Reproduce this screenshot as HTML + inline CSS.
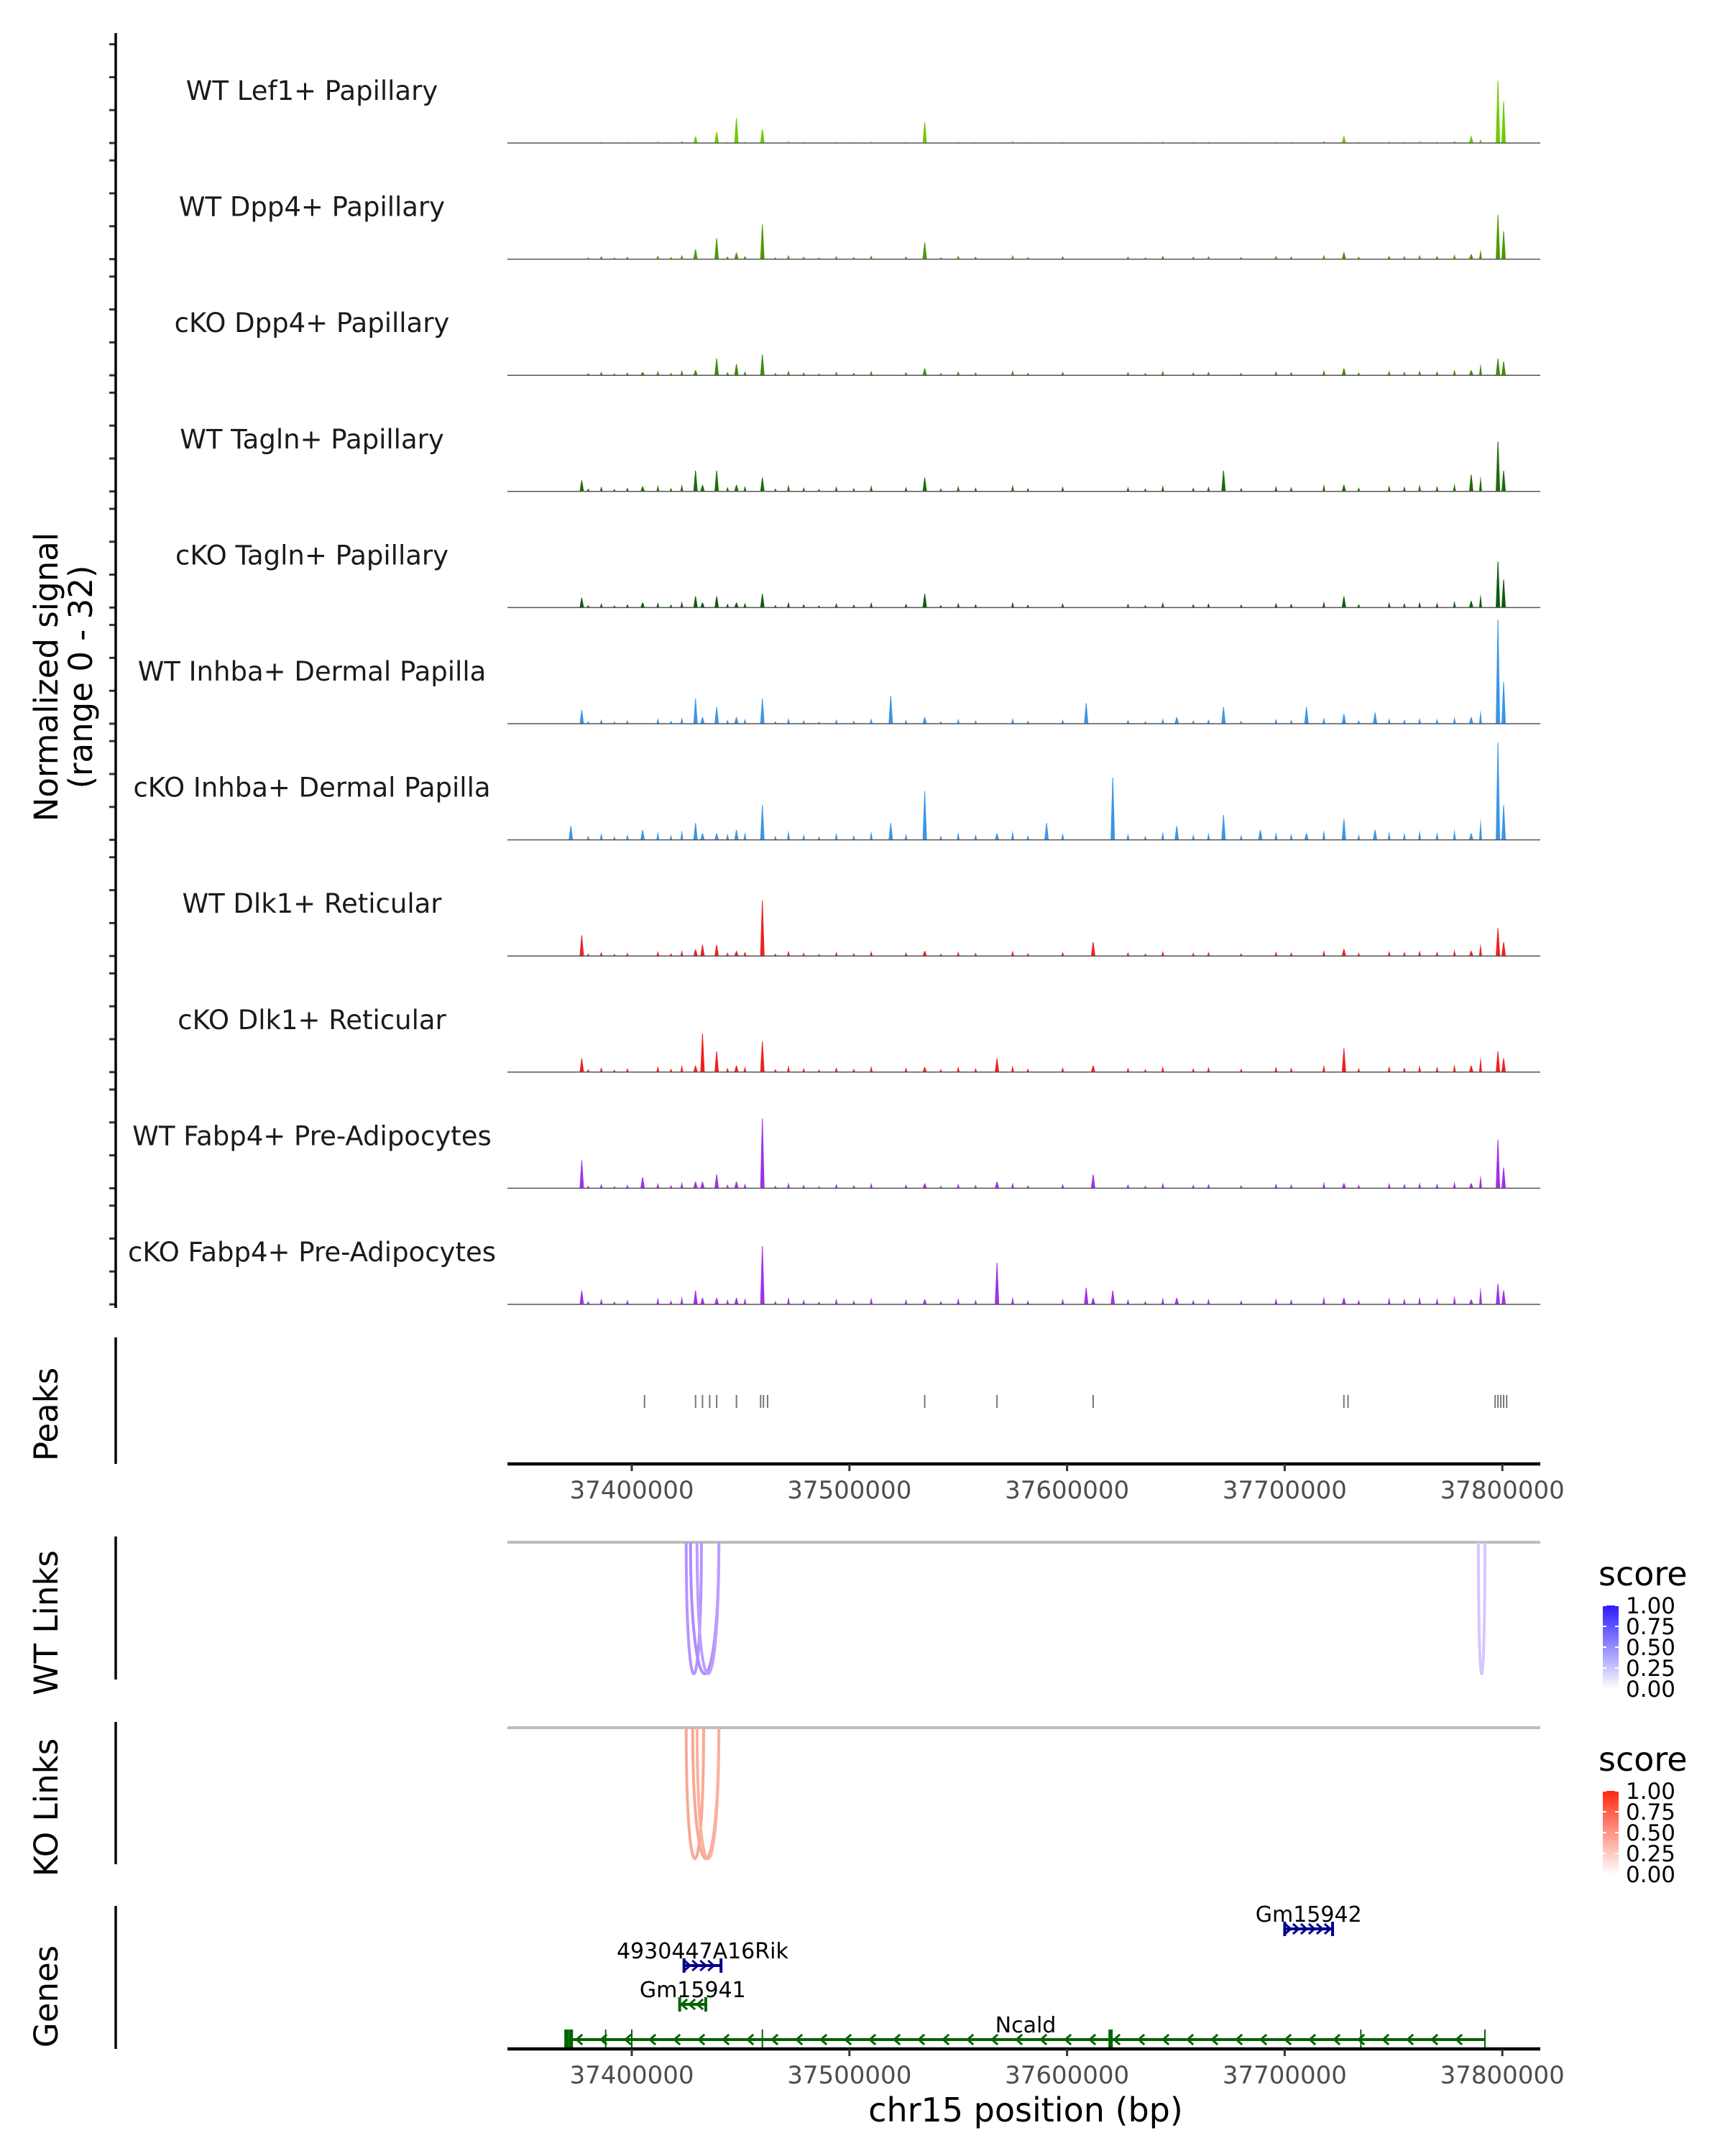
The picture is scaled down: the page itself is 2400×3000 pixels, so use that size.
<!DOCTYPE html>
<html><head><meta charset="utf-8"><title>chr15 coverage</title>
<style>
html,body{margin:0;padding:0;background:#fff;}
svg{display:block;font-family:"DejaVu Sans","Liberation Sans",sans-serif;}
</style></head>
<body>
<svg id="chart" xmlns="http://www.w3.org/2000/svg" width="2400" height="3000" viewBox="0 0 2400 3000">
<defs>
<linearGradient id="gWT" x1="0" y1="1" x2="0" y2="0"><stop offset="0" stop-color="#ffffff"/><stop offset="1" stop-color="#2a1aff"/></linearGradient>
<linearGradient id="gKO" x1="0" y1="1" x2="0" y2="0"><stop offset="0" stop-color="#ffffff"/><stop offset="1" stop-color="#ff2a10"/></linearGradient>
</defs>
<g id="tracks"></g>
<g id="peaks"></g>
<g id="links"></g>
<g id="genes"></g>
<g id="axes"></g>
</svg>
<script>
// ---- data ----
const trackNames = ["WT Lef1+ Papillary","WT Dpp4+ Papillary","cKO Dpp4+ Papillary","WT Tagln+ Papillary","cKO Tagln+ Papillary","WT Inhba+ Dermal Papilla","cKO Inhba+ Dermal Papilla","WT Dlk1+ Reticular","cKO Dlk1+ Reticular","WT Fabp4+ Pre-Adipocytes","cKO Fabp4+ Pre-Adipocytes"];
const trackColors = ["#6fcc00","#4c9a00","#3f8c00","#1f6b00","#0f5a0f","#3a96e8","#3a96e8","#f02020","#f02020","#a030e8","#a030e8"];
const peakPos = [37372000,37377000,37405000,37429300,37432500,37439000,37448100,37460000,37519000,37534600,37567800,37590600,37608800,37612000,37621000,37650400,37671900,37688800,37710000,37727200,37741500,37785700,37798000,37800600];
const peakVals = [
 [0,0,0,2,0,3.4,7.6,4.2,0,6.3,0,0,0,0,0,0,0,0,0,2.1,0,2.1,19,12.7],
 [0,0,0,3,0,6.3,2,10.6,0,5.1,0,0,0,0,0,0,0,0,0,2.1,0,1.5,13.5,8.5],
 [0,0,1,1.5,0,5.1,3.4,6.3,0,2.1,0,0,0,0,0,0,0,0,0,2.1,0,1.5,5.1,4.2],
 [0,3.4,1.5,6.3,2,6.3,2,4.2,0,4.2,0,0,0,0,0,0,6.3,0,0,2,0,5.1,15.2,6.3],
 [0,3,1.5,3.4,1.5,3.4,1.5,4.2,0,4.2,0,0,0,0,0,0,0,0,0,3.4,0,2,14,8.5],
 [0,4.2,0,7.6,2,5.1,2,7.6,8.5,2,0,0,6.3,0,0,2,5.1,0,5.1,3,3.4,2,31.7,12.7],
 [4.2,0,3,5.1,2,2,3,10.6,5.1,14.8,2,5.1,0,0,19,4.2,7.6,3,2,6.3,3,2,29.6,10.6],
 [0,6.3,0,2,3.4,3.4,1.5,16.9,0,1.5,0,0,0,4.2,0,0,0,0,0,2.1,0,1.5,8.5,4.2],
 [0,4.2,0,2,11.8,6.3,2,9.3,0,1.5,4.2,0,0,2,0,0,0,0,0,7.2,0,2,6.3,4.2],
 [0,8.5,3.4,2,2,4.2,2,21.2,0,1.5,2,0,0,4.2,0,0,0,0,0,1.5,0,1.5,14.8,6.3],
 [0,4.2,0,4.2,2,2,2,17.8,0,1.5,12.7,0,5.1,2,4.2,2,0,0,0,2,0,1.5,6.3,4.2]
];
const minorPos = [37380000,37386000,37392000,37398000,37412000,37418000,37423000,37444000,37452000,37466000,37472000,37479000,37486000,37494000,37502000,37510000,37526000,37542000,37550000,37558000,37575000,37582000,37598000,37628000,37636000,37644000,37658000,37665000,37680000,37696000,37703000,37718000,37734000,37748000,37755000,37762000,37770000,37778000,37790000];
const minorVals = [0.6,1.0,0.5,0.8,1.2,0.7,1.4,0.9,1.1,0.6,1.3,0.8,0.5,1.0,0.7,1.2,0.9,0.6,1.1,0.8,1.3,0.7,1.0,0.9,0.6,1.2,0.8,1.0,0.7,1.1,0.9,1.4,0.8,1.2,1.0,1.3,1.1,1.5,3.0];
const minorScale = [0.4,1.0,1.2,1.6,1.4,1.4,2.2,1.3,1.6,1.4,1.8];
const peaksBp = [37405850,37429300,37432500,37435800,37439000,37448100,37459200,37460500,37462400,37534600,37567800,37612000,37727200,37729100,37796700,37798000,37799300,37800600,37802000];
const xTicks = [37400000,37500000,37600000,37700000,37800000];
const wtLinks = [[37425000,37432000,0.55],[37427000,37440000,0.6],[37430000,37440000,0.5],[37789000,37792000,0.3]];
const koLinks = [[37425000,37433000,0.5],[37428000,37440000,0.5],[37430000,37440000,0.45]];
const legendTicks = ["1.00","0.75","0.50","0.25","0.00"];
const genes = [
 {name:"Ncald",start:37370000,end:37792000,strand:-1,row:0,color:"#006400"},
 {name:"Gm15941",start:37422000,end:37434000,strand:-1,row:1,color:"#006400"},
 {name:"4930447A16Rik",start:37424000,end:37441000,strand:1,row:2,color:"#00008b"},
 {name:"Gm15942",start:37700000,end:37722000,strand:1,row:3,color:"#00008b"}
];
const ncaldExons = [37370000,37372000,37388000,37400000,37460000,37620000,37735000,37792000];

// ---- scales ----
const NS="http://www.w3.org/2000/svg";
const X0=879, PX=302.8/100000;
function xs(bp){return X0+(bp-37400000)*PX;}
const PL=706, PR=2143;
const base0=199, tStep=161.6, unit=4.57;
function yv(v){return v*unit;}
function mk(tag,attrs,parent){const e=document.createElementNS(NS,tag);for(const k in attrs)e.setAttribute(k,attrs[k]);parent.appendChild(e);return e;}
function txt(s,attrs,parent){const e=mk("text",attrs,parent);e.textContent=s;return e;}

// ---- coverage tracks ----
const gT=document.getElementById("tracks");
trackNames.forEach((nm,i)=>{
  const b=base0+i*tStep;
  const g=mk("g",{},gT);
  
  
  let d="";
  minorPos.forEach((p,j)=>{const x=xs(p),h=yv(minorVals[j]*minorScale[i]);d+=`M${(x-2).toFixed(1)},${b}L${x.toFixed(1)},${(b-h).toFixed(1)}L${(x+2).toFixed(1)},${b}Z`;});
  peakPos.forEach((p,j)=>{const v=peakVals[i][j];if(!v)return;const x=xs(p),h=yv(v);d+=`M${(x-3).toFixed(1)},${b}L${(x-0.5).toFixed(1)},${(b-h).toFixed(1)}L${(x+0.5).toFixed(1)},${(b-h).toFixed(1)}L${(x+3).toFixed(1)},${b}Z`;});
  const sig=mk("path",{d:d,fill:trackColors[i]},g);
  
  
  const bl=mk("line",{x1:PL,x2:PR,y1:b,y2:b,stroke:"#555",'stroke-width':1.5},g);
  
  
  const t=txt(nm,{x:434,y:b-60,'text-anchor':'middle','font-size':37,fill:'#1a1a1a'},g);
  
  
  for(let k=0;k<4;k++){const ty=b-k*45.8;const tk=mk("line",{x1:152,x2:161,y1:ty,y2:ty,stroke:"#333",'stroke-width':3},g);
    
    }
});

// ---- axes / labels ----
const gA=document.getElementById("axes");
function vline(y1,y2,name){const l=mk("line",{x1:161,x2:161,y1:y1,y2:y2,stroke:"#000",'stroke-width':3.5},gA);}
vline(46,1820,'coverage-y-axis');vline(1861,2037,'peaks-y-axis');vline(2138,2337,'wt-links-y-axis');vline(2396,2594,'ko-links-y-axis');vline(2652,2851,'genes-y-axis');
function rlabel(cx,cy,name,lines){const t=txt("",{transform:`translate(${cx},${cy}) rotate(-90)`,'text-anchor':'middle','font-size':45,fill:'#000'},gA);
  
  lines.forEach((ln,k)=>{const ts=mk("tspan",{x:0,dy:k?48:0},t);ts.textContent=ln;});}
rlabel(80,942,'y-axis-title',["Normalized signal","(range 0 - 32)"]);
rlabel(80,1968,'peaks-title',["Peaks"]);
rlabel(80,2258,'wt-links-title',["WT Links"]);
rlabel(80,2515,'ko-links-title',["KO Links"]);
rlabel(80,2778,'genes-title',["Genes"]);
function xaxis(y,name){const g=mk("g",{},gA);
  mk("line",{x1:PL,x2:PR,y1:y,y2:y,stroke:"#000",'stroke-width':4.5},g);
  xTicks.forEach(t=>{const x=xs(t);mk("line",{x1:x,x2:x,y1:y,y2:y+10,stroke:"#333",'stroke-width':3},g);
    const l=txt(String(t),{x:x,y:y+48,'text-anchor':'middle','font-size':34,fill:'#4d4d4d'},g);
    });}
xaxis(2037,'peaks-x-axis');xaxis(2851,'genes-x-axis');
const xt=txt("chr15 position (bp)",{x:1427,y:2952,'text-anchor':'middle','font-size':46,fill:'#000'},gA);


// ---- peaks ----
const gP=document.getElementById("peaks");
peaksBp.forEach(p=>{const x=xs(p);const l=mk("line",{x1:x,x2:x,y1:1941,y2:1959,stroke:"#777",'stroke-width':2},gP);
  });

// ---- links ----
const gL=document.getElementById("links");
function linkPanel(top,bottom,data,grad,col0,col1,legY,nm){
  const g=mk("g",{},gL);
  mk("line",{x1:PL,x2:PR,y1:top,y2:top,stroke:"#bdbdbd",'stroke-width':4},g);
  data.forEach(l=>{const a=xs(l[0]),b=xs(l[1]);const s=l[2];
    const c=`rgb(${Math.round(col0[0]+(col1[0]-col0[0])*s)},${Math.round(col0[1]+(col1[1]-col0[1])*s)},${Math.round(col0[2]+(col1[2]-col0[2])*s)})`;
    const d=`M${a},${top} C${a},${bottom+61} ${b},${bottom+61} ${b},${top}`;
    const p=mk("path",{d:d,fill:'none',stroke:c,'stroke-width':4},g);
    });
  const lg=mk("g",{},g);
  txt("score",{x:2224,y:legY,'font-size':46,fill:'#000'},lg);
  mk("rect",{x:2230,y:legY+28,width:22,height:116,fill:`url(#${grad})`},lg);
  legendTicks.forEach((t,k)=>{const y=legY+28+k*29;txt(t,{x:2262,y:y+11,'font-size':31,fill:'#000'},lg);
    mk("line",{x1:2230,x2:2235,y1:y,y2:y,stroke:'#fff','stroke-width':2},lg);mk("line",{x1:2247,x2:2252,y1:y,y2:y,stroke:'#fff','stroke-width':2},lg);});
}
linkPanel(2146,2329,wtLinks,'gWT',[255,255,255],[120,60,255],2206,'wt-links');
linkPanel(2404,2586,koLinks,'gKO',[255,255,255],[245,80,40],2464,'ko-links');

// ---- genes ----
const gG=document.getElementById("genes");
const rowY=[2838,2789,2735,2684];
genes.forEach(gn=>{const g=mk("g",{},gG);
  const y=rowY[gn.row],a=xs(gn.start),b=xs(gn.end);
  mk("line",{x1:a,x2:b,y1:y,y2:y,stroke:gn.color,'stroke-width':4},g);
  const step=gn.row===0?34:11;
  for(let x=a+step/2;x<b-3;x+=step){const d=gn.strand<0?`M${x+5},${y-7} L${x-3},${y} L${x+5},${y+7}`:`M${x-5},${y-7} L${x+3},${y} L${x-5},${y+7}`;
    mk("path",{d:d,fill:'none',stroke:gn.color,'stroke-width':3},g);}
  if(gn.row===0){ncaldExons.forEach((p,k)=>{const x=xs(p);const w=(k<2||k===5)?6:2;mk("rect",{x:x-w/2,y:y-14,width:w,height:28,fill:gn.color},g);});}
  else{[a,b].forEach(x=>mk("rect",{x:x-2,y:y-10,width:4,height:20,fill:gn.color},g));}
  const lab=txt(gn.name,{x:(a+b)/2,y:y-10,'text-anchor':'middle','font-size':30,fill:'#000'},g);
  if(gn.row===0){lab.setAttribute('x',1427);}
  
});
</script>
</body></html>
